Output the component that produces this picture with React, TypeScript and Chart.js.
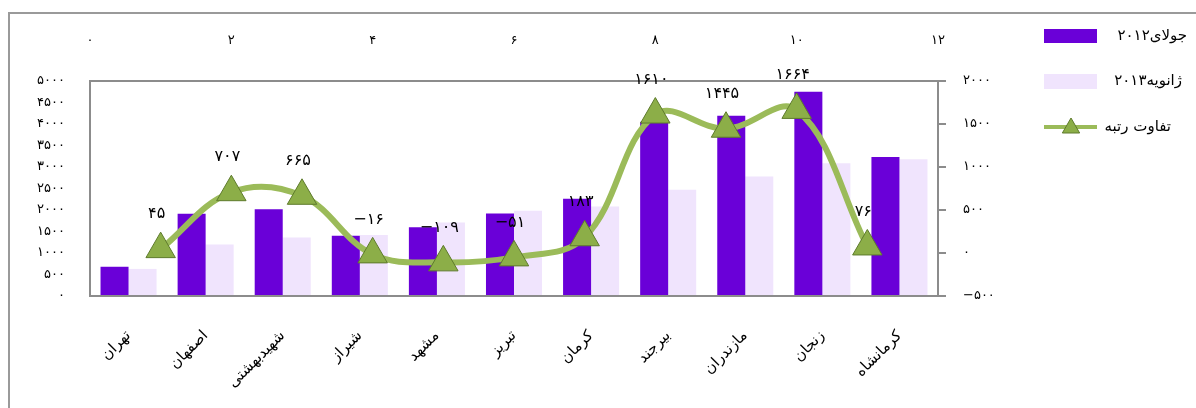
import { useEffect, useRef } from 'react';
import { Chart, registerables } from 'chart.js';

Chart.register(...registerables);

const categories = ['تهران', 'اصفهان', 'شهیدبهشتی', 'شیراز', 'مشهد', 'تبریز', 'کرمان', 'بیرجند', 'مازندران', 'زنجان', 'کرمانشاه'];
const july2012 = [680, 1910, 2020, 1400, 1600, 1920, 2260, 4050, 4190, 4750, 3230];
const jan2013 = [630, 1200, 1360, 1420, 1710, 1980, 2080, 2470, 2780, 3090, 3180];
const rankDiff = [45, 707, 665, -16, -109, -51, 183, 1610, 1445, 1664, 76];
const rankX = [1, 2, 3, 4, 5, 6, 7, 8, 9, 10, 11];
const legendYears = ['۲۰۱۲', '۲۰۱۳', ''];
const legendWords = ['جولای', 'ژانویه', 'تفاوت رتبه'];

const PURPLE = '#6A00D8';
const LIGHT = '#F0E4FD';
const GREEN = '#9BBB59';
const MARKER = '#8CAE48';
const MARKER_BORDER = '#5E7B2C';
const FONT = "'DejaVu Sans', sans-serif";

const faDigits = '۰۱۲۳۴۵۶۷۸۹';
const toFa = (n: number | string) => {
  const s = String(n).replace(/\d/g, (d) => faDigits[Number(d)]);
  return s.replace('-', '−');
};

function drawTriangle(ctx: CanvasRenderingContext2D, x: number, y: number, r: number) {
  ctx.beginPath();
  let rad = 0;
  ctx.moveTo(x + Math.sin(rad) * r, y - Math.cos(rad) * r);
  rad += (2 * Math.PI) / 3;
  ctx.lineTo(x + Math.sin(rad) * r, y - Math.cos(rad) * r);
  rad += (2 * Math.PI) / 3;
  ctx.lineTo(x + Math.sin(rad) * r, y - Math.cos(rad) * r);
  ctx.closePath();
  ctx.fillStyle = MARKER;
  ctx.fill();
  ctx.strokeStyle = MARKER_BORDER;
  ctx.lineWidth = 1;
  ctx.stroke();
}

function drawLegendText(ctx: CanvasRenderingContext2D, i: number, right: number, y: number) {
  ctx.textAlign = 'right';
  ctx.fillText(legendWords[i], right, y);
  if (legendYears[i]) {
    const w = ctx.measureText(legendWords[i]).width;
    ctx.fillText(legendYears[i], right - w, y);
  }
}

const decorPlugin = {
  id: 'decor',
  beforeDraw(chart: any) {
    const { ctx } = chart;
    ctx.save();
    ctx.fillStyle = '#ffffff';
    ctx.fillRect(0, 0, chart.width, chart.height);
    ctx.strokeStyle = '#9a9a9a';
    ctx.lineWidth = 2;
    ctx.beginPath();
    ctx.moveTo(9, chart.height);
    ctx.lineTo(9, 13);
    ctx.lineTo(chart.width, 13);
    ctx.stroke();
    ctx.restore();
  },
  afterDatasetsDraw(chart: any) {
    const { ctx, chartArea } = chart;
    ctx.save();
    ctx.strokeStyle = '#8c8c8c';
    ctx.lineWidth = 2;
    ctx.strokeRect(chartArea.left, chartArea.top, chartArea.right - chartArea.left, chartArea.bottom - chartArea.top);
    const meta = chart.getDatasetMeta(0);
    ctx.fillStyle = '#000';
    ctx.font = `16px ${FONT}`;
    ctx.textAlign = 'center';
    ctx.textBaseline = 'middle';
    meta.data.forEach((pt: any, i: number) => {
      ctx.fillText(toFa(rankDiff[i]), pt.x - 4, pt.y - 35);
    });
    ctx.restore();
  },
  afterDraw(chart: any) {
    const { ctx } = chart;
    ctx.save();
    ctx.font = `15px ${FONT}`;
    ctx.textBaseline = 'middle';
    ctx.fillStyle = PURPLE;
    ctx.fillRect(1044, 29, 53, 14);
    ctx.fillStyle = '#000';
    drawLegendText(ctx, 0, 1187, 36);
    ctx.fillStyle = LIGHT;
    ctx.fillRect(1044, 74, 53, 15);
    ctx.fillStyle = '#000';
    drawLegendText(ctx, 1, 1182, 81);
    ctx.strokeStyle = GREEN;
    ctx.lineWidth = 4;
    ctx.beginPath();
    ctx.moveTo(1044, 127);
    ctx.lineTo(1097, 127);
    ctx.stroke();
    drawTriangle(ctx, 1071, 128, 10);
    ctx.fillStyle = '#000';
    drawLegendText(ctx, 2, 1171, 127);
    ctx.restore();
  },
};

// Chart.js 4.4 splits each category group between the index axes used by the
// datasets (here 'x2' for the line and 'x' for the bars), so the bar group's
// share is doubled to get bars that are ~73% of the category width together.
const BAR_GROUP_SHARE = 0.727 * 2;

export default function App() {
  const ref = useRef<HTMLCanvasElement | null>(null);

  useEffect(() => {
    document.body.style.margin = '0';
    const canvas = ref.current;
    if (!canvas) return;
    const chart = new Chart(canvas, {
      type: 'bar',
      data: {
        labels: categories,
        datasets: [
          {
            type: 'line',
            label: legendWords[2],
            data: rankX.map((x, i) => ({ x, y: rankDiff[i] })) as any,
            xAxisID: 'x2',
            yAxisID: 'y2',
            borderColor: GREEN,
            borderWidth: 6,
            tension: 0.38,
            pointStyle: 'triangle',
            pointRadius: 17,
            pointBackgroundColor: MARKER,
            pointBorderColor: MARKER_BORDER,
            pointBorderWidth: 1,
            clip: false as any,
            order: 0,
          } as any,
          {
            type: 'bar',
            label: legendYears[0] + legendWords[0],
            data: july2012,
            backgroundColor: PURPLE,
            xAxisID: 'x',
            yAxisID: 'y',
            categoryPercentage: BAR_GROUP_SHARE,
            barPercentage: 1.0,
            order: 2,
          } as any,
          {
            type: 'bar',
            label: legendYears[1] + legendWords[1],
            data: jan2013,
            backgroundColor: LIGHT,
            xAxisID: 'x',
            yAxisID: 'y',
            categoryPercentage: BAR_GROUP_SHARE,
            barPercentage: 1.0,
            order: 2,
          } as any,
        ],
      },
      options: {
        responsive: true,
        maintainAspectRatio: false,
        animation: false,
        events: [],
        layout: { padding: 0 },
        plugins: {
          legend: { display: false },
          tooltip: { enabled: false },
        },
        scales: {
          x: {
            type: 'category',
            position: 'bottom',
            grid: { display: false, drawTicks: false },
            border: { display: false },
            ticks: {
              autoSkip: false,
              minRotation: 45,
              maxRotation: 45,
              padding: 31,
              color: '#000',
              font: { family: FONT, size: 15 },
            },
            afterFit: (s: any) => {
              s.height = 112;
            },
          },
          x2: {
            type: 'linear',
            position: 'top',
            min: 0,
            max: 12,
            offset: false,
            grid: { display: false, drawTicks: false, offset: false },
            border: { display: false },
            ticks: {
              stepSize: 2,
              padding: 33,
              color: '#000',
              font: { family: FONT, size: 13 },
              callback: (v: any) => toFa(v),
            },
            afterFit: (s: any) => {
              s.height = 81;
            },
          },
          y: {
            type: 'linear',
            position: 'left',
            min: 0,
            max: 5000,
            grid: { display: false, drawTicks: false },
            border: { display: false },
            ticks: {
              stepSize: 500,
              padding: 25,
              color: '#000',
              font: { family: FONT, size: 13 },
              callback: (v: any) => toFa(v),
            },
            afterFit: (s: any) => {
              s.width = 90;
            },
          },
          y2: {
            type: 'linear',
            position: 'right',
            min: -500,
            max: 2000,
            grid: {
              display: true,
              drawOnChartArea: false,
              drawTicks: true,
              tickLength: 8,
              color: '#8c8c8c',
              lineWidth: 2,
            },
            border: { display: false },
            ticks: {
              stepSize: 500,
              padding: 17,
              color: '#000',
              font: { family: FONT, size: 13 },
              callback: (v: any) => toFa(v),
            },
            afterFit: (s: any) => {
              s.width = 258;
            },
          },
        },
      },
      plugins: [decorPlugin],
    });
    return () => chart.destroy();
  }, []);

  return (
    <div style={{ position: 'relative', width: 1196, height: 408, overflow: 'hidden' }}>
      <canvas ref={ref} />
    </div>
  );
}
